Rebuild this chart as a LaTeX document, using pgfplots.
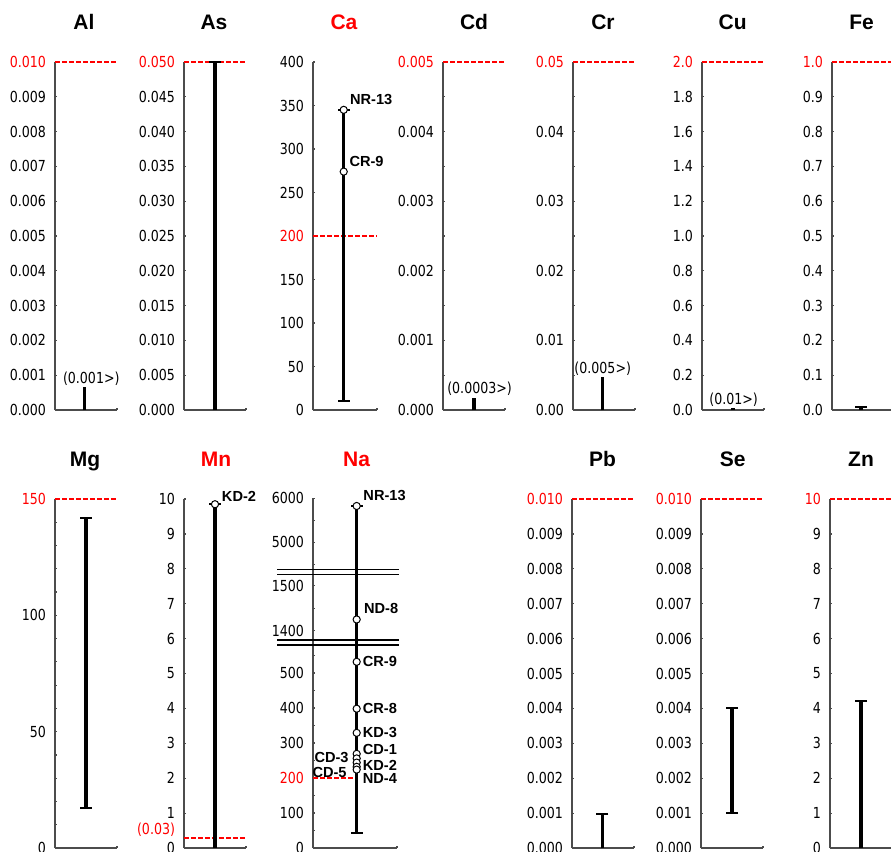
\documentclass[border=0pt]{standalone}
\usepackage{fontspec}
\setmainfont{Liberation Sans}
\newfontfamily\tickfont[FakeStretch=0.83]{DejaVu Sans}
\usepackage{pgfplots}
\pgfplotsset{compat=1.18}
\newcommand\tf{\tickfont\fontsize{7.6}{8}\selectfont}
\newcommand\lab{\bfseries\fontsize{7.3}{8}\selectfont}
\newcommand\ttl{\bfseries\fontsize{10.5}{12}\selectfont}
\newcommand\R[1]{\textcolor{red}{#1}}
\pgfplotsset{
  panel/.style={
    scale only axis, width=31pt, height=174pt,
    axis lines=left, axis line style={-, draw=black!70, line width=0.6pt},
    xmin=0, xmax=1, xtick={1}, xticklabels={},
    scaled y ticks=false, scaled x ticks=false,
    tick align=inside, major tick length=1.2pt, minor tick length=1.2pt,
    every tick/.style={draw=black!70, line width=0.6pt},
    yticklabel style={font=\tf, inner sep=0pt, xshift=-4.3pt},
    anchor=south west, clip=false,
  },
  bar/.style={black, line width=1.7pt, no marks},
  cap/.style={black, only marks, mark=-, mark size=3pt, mark options={line width=1pt}},
  dot/.style={only marks, mark=*, mark size=1.8pt, mark options={fill=white, draw=black, line width=0.5pt}},
  std/.style={red, line width=1pt, dash pattern=on 2.4pt off 1.1pt, no marks},
}
\begin{document}
\begin{tikzpicture}
\useasboundingbox (0,0) rectangle (445.5pt,-426pt);
% ---------- titles ----------
\node[font=\ttl, anchor=base] at (42pt,-14.7pt) {Al};
\node[font=\ttl, anchor=base] at (107pt,-14.7pt) {As};
\node[font=\ttl, anchor=base, text=red] at (172pt,-14.7pt) {Ca};
\node[font=\ttl, anchor=base] at (237pt,-14.7pt) {Cd};
\node[font=\ttl, anchor=base] at (301.5pt,-14.7pt) {Cr};
\node[font=\ttl, anchor=base] at (366.3pt,-14.7pt) {Cu};
\node[font=\ttl, anchor=base] at (430.8pt,-14.7pt) {Fe};
\node[font=\ttl, anchor=base] at (42.5pt,-233.3pt) {Mg};
\node[font=\ttl, anchor=base, text=red] at (108pt,-233.3pt) {Mn};
\node[font=\ttl, anchor=base, text=red] at (178.3pt,-233.3pt) {Na};
\node[font=\ttl, anchor=base] at (301.3pt,-233.3pt) {Pb};
\node[font=\ttl, anchor=base] at (366.3pt,-233.3pt) {Se};
\node[font=\ttl, anchor=base] at (430.5pt,-233.3pt) {Zn};

% ---------- Al ----------
\begin{axis}[panel, at={(27.5pt,-205pt)}, ymin=0, ymax=0.01,
  ytick={0,0.001,0.002,0.003,0.004,0.005,0.006,0.007,0.008,0.009,0.01},
  yticklabels={0.000,0.001,0.002,0.003,0.004,0.005,0.006,0.007,0.008,0.009,\R{0.010}}]
\addplot[std] coordinates {(0,0.01) (1,0.01)};
\addplot[bar] coordinates {(0.48,0) (0.48,0.00065)};
\node[font=\tf] at (axis cs:0.585,0.00091) {(0.001>)};
\end{axis}
% ---------- As ----------
\begin{axis}[panel, at={(92pt,-205pt)}, ymin=0, ymax=0.05,
  ytick={0,0.005,0.01,0.015,0.02,0.025,0.03,0.035,0.04,0.045,0.05},
  yticklabels={0.000,0.005,0.010,0.015,0.020,0.025,0.030,0.035,0.040,0.045,\R{0.050}}]
\addplot[std] coordinates {(0,0.05) (1,0.05)};
\addplot[bar] coordinates {(0.5,0) (0.5,0.05)};
\addplot[cap] coordinates {(0.5,0.05)};
\end{axis}
% ---------- Ca ----------
\begin{axis}[panel, at={(156.5pt,-205pt)}, width=32pt, ymin=0, ymax=400,
  ytick={0,50,100,150,200,250,300,350,400},
  yticklabels={0,50,100,150,\R{200},250,300,350,400}]
\addplot[std] coordinates {(0,200) (1,200)};
\addplot[bar] coordinates {(0.48,10) (0.48,345)};
\addplot[cap] coordinates {(0.48,10) (0.48,345)};
\addplot[dot] coordinates {(0.48,345) (0.48,274)};
\node[font=\lab, anchor=west, inner sep=0pt, xshift=3pt, yshift=5.2pt] at (axis cs:0.48,345) {NR-13};
\node[font=\lab, anchor=west, inner sep=0pt, xshift=2.7pt, yshift=5.3pt] at (axis cs:0.48,274) {CR-9};
\end{axis}
% ---------- Cd ----------
\begin{axis}[panel, at={(221.5pt,-205pt)}, ymin=0, ymax=0.005,
  ytick={0,0.001,0.002,0.003,0.004,0.005},
  minor ytick={0.0005,0.0015,0.0025,0.0035,0.0045},
  yticklabels={0.000,0.001,0.002,0.003,0.004,\R{0.005}}]
\addplot[std] coordinates {(0,0.005) (1,0.005)};
\addplot[bar] coordinates {(0.5,0) (0.5,0.00017)};
\node[font=\tf] at (axis cs:0.59,0.000312) {(0.0003>)};
\end{axis}
% ---------- Cr ----------
\begin{axis}[panel, at={(286.5pt,-205pt)}, ymin=0, ymax=0.05,
  ytick={0,0.01,0.02,0.03,0.04,0.05},
  minor ytick={0.005,0.015,0.025,0.035,0.045},
  yticklabels={0.00,0.01,0.02,0.03,0.04,\R{0.05}}]
\addplot[std] coordinates {(0,0.05) (1,0.05)};
\addplot[bar] coordinates {(0.48,0) (0.48,0.0048)};
\node[font=\tf] at (axis cs:0.48,0.006) {(0.005>)};
\end{axis}
% ---------- Cu ----------
\begin{axis}[panel, at={(351pt,-205pt)}, ymin=0, ymax=2,
  ytick={0,0.2,0.4,0.6,0.8,1,1.2,1.4,1.6,1.8,2},
  yticklabels={0.0,0.2,0.4,0.6,0.8,1.0,1.2,1.4,1.6,1.8,\R{2.0}}]
\addplot[std] coordinates {(0,2) (1,2)};
\addplot[bar] coordinates {(0.5,0) (0.5,0.01)};
\node[font=\tf] at (axis cs:0.51,0.0575) {(0.01>)};
\end{axis}
% ---------- Fe ----------
\begin{axis}[panel, at={(416pt,-205pt)}, ymin=0, ymax=1,
  ytick={0,0.1,0.2,0.3,0.4,0.5,0.6,0.7,0.8,0.9,1},
  yticklabels={0.0,0.1,0.2,0.3,0.4,0.5,0.6,0.7,0.8,0.9,\R{1.0}}]
\addplot[std] coordinates {(0,1) (1,1)};
\addplot[bar] coordinates {(0.47,0) (0.47,0.01)};
\addplot[cap] coordinates {(0.47,0.01)};
\end{axis}

% ---------- Mg ----------
\begin{axis}[panel, at={(27.5pt,-424pt)}, height=174.5pt, ymin=0, ymax=150,
  ytick={0,50,100,150},
  minor ytick={10,20,30,40,60,70,80,90,110,120,130,140},
  yticklabels={0,50,100,\R{150}}]
\addplot[std] coordinates {(0,150) (1,150)};
\addplot[bar] coordinates {(0.5,17.3) (0.5,142)};
\addplot[cap] coordinates {(0.5,17.3) (0.5,142)};
\end{axis}
% ---------- Mn ----------
\begin{axis}[panel, at={(92pt,-424pt)}, height=174.5pt, ymin=0, ymax=10,
  ytick={0,1,2,3,4,5,6,7,8,9,10},
  yticklabels={0,1,2,3,4,5,6,7,8,9,10},
  extra y ticks={0.3}, extra y tick labels={\R{(0.03)}},
  extra y tick style={major tick length=0pt, yticklabel style={yshift=4pt}}]
\addplot[std] coordinates {(0,0.3) (1,0.3)};
\addplot[bar] coordinates {(0.5,0) (0.5,9.85)};
\addplot[cap] coordinates {(0.5,9.85)};
\addplot[dot] coordinates {(0.5,9.85)};
\node[font=\lab, anchor=west, inner sep=0pt, xshift=3.3pt, yshift=4pt] at (axis cs:0.5,9.85) {KD-2};
\end{axis}
% ---------- Na (broken axis: three segments) ----------
\begin{axis}[panel, at={(156.5pt,-424pt)}, width=42pt, height=101.5pt,
  ymin=0, ymax=580, clip=true, clip mode=individual,
  ytick={0,100,200,300,400,500},
  minor ytick={50,150,250,350,450,550},
  yticklabels={0,100,\R{200},300,400,500}]
\addplot[std] coordinates {(0,200) (0.5,200)};
\addplot[bar] coordinates {(0.52,44) (0.52,5825)};
\addplot[cap] coordinates {(0.52,44)};
\addplot[dot] coordinates {(0.52,532) (0.52,398) (0.52,329) (0.52,269) (0.52,256) (0.52,244) (0.52,232) (0.52,224)};
\node[font=\lab, anchor=west, inner sep=0pt, xshift=2.9pt] at (axis cs:0.52,532) {CR-9};
\node[font=\lab, anchor=west, inner sep=0pt, xshift=2.9pt] at (axis cs:0.52,398) {CR-8};
\node[font=\lab, anchor=west, inner sep=0pt, xshift=2.9pt] at (axis cs:0.52,329) {KD-3};
\node[font=\lab, anchor=west, inner sep=0pt, xshift=2.9pt, yshift=2.35pt] at (axis cs:0.52,269) {CD-1};
\node[font=\lab, anchor=west, inner sep=0pt, xshift=2.9pt, yshift=-1.15pt] at (axis cs:0.52,244) {KD-2};
\node[font=\lab, anchor=west, inner sep=0pt, xshift=2.9pt, yshift=-4.65pt] at (axis cs:0.52,224) {ND-4};
\node[font=\lab, anchor=east, inner sep=0pt, xshift=-3.85pt, yshift=0.5pt] at (axis cs:0.52,256) {CD-3};
\node[font=\lab, anchor=east, inner sep=0pt, xshift=-4.85pt, yshift=-3pt] at (axis cs:0.52,232) {CD-5};
\end{axis}
\begin{axis}[panel, at={(156.5pt,-322.5pt)}, width=42pt, height=35.15pt,
  axis x line=none, ymin=1368, ymax=1525, clip=true, clip mode=individual,
  ytick={1400,1500}, minor ytick={1450}, yticklabels={1400,1500}]
\addplot[bar] coordinates {(0.52,44) (0.52,5825)};
\addplot[dot] coordinates {(0.52,1425)};
\node[font=\lab, anchor=west, inner sep=0pt, xshift=3.5pt, yshift=5.6pt] at (axis cs:0.52,1425) {ND-8};
\end{axis}
\begin{axis}[panel, at={(156.5pt,-287.35pt)}, width=42pt, height=38.2pt,
  axis x line=none, ymin=4264, ymax=6000, clip=true, clip mode=individual,
  ytick={5000,6000}, minor ytick={4500,5500}, yticklabels={5000,6000}]
\addplot[bar] coordinates {(0.52,44) (0.52,5825)};
\addplot[cap] coordinates {(0.52,5825)};
\addplot[dot] coordinates {(0.52,5825)};
\node[font=\lab, anchor=west, inner sep=0pt, xshift=3.2pt, yshift=5.5pt] at (axis cs:0.52,5825) {NR-13};
\end{axis}
\draw[black, line width=0.7pt] (138.5pt,-284.65pt) -- (199.5pt,-284.65pt);
\draw[black, line width=0.7pt] (138.5pt,-287.35pt) -- (199.5pt,-287.35pt);
\draw[black, line width=0.7pt] (138.5pt,-320pt) -- (199.5pt,-320pt);
\draw[black, line width=0.7pt] (138.5pt,-322.5pt) -- (199.5pt,-322.5pt);
% ---------- Pb ----------
\begin{axis}[panel, at={(286pt,-424pt)}, height=174.5pt, ymin=0, ymax=0.01,
  ytick={0,0.001,0.002,0.003,0.004,0.005,0.006,0.007,0.008,0.009,0.01},
  yticklabels={0.000,0.001,0.002,0.003,0.004,0.005,0.006,0.007,0.008,0.009,\R{0.010}}]
\addplot[std] coordinates {(0,0.01) (1,0.01)};
\addplot[bar] coordinates {(0.49,0) (0.49,0.00097)};
\addplot[cap] coordinates {(0.49,0.00097)};
\end{axis}
% ---------- Se ----------
\begin{axis}[panel, at={(350.5pt,-424pt)}, height=174.5pt, ymin=0, ymax=0.01,
  ytick={0,0.001,0.002,0.003,0.004,0.005,0.006,0.007,0.008,0.009,0.01},
  yticklabels={0.000,0.001,0.002,0.003,0.004,0.005,0.006,0.007,0.008,0.009,\R{0.010}}]
\addplot[std] coordinates {(0,0.01) (1,0.01)};
\addplot[bar] coordinates {(0.5,0.001) (0.5,0.004)};
\addplot[cap] coordinates {(0.5,0.001) (0.5,0.004)};
\end{axis}
% ---------- Zn ----------
\begin{axis}[panel, at={(415pt,-424pt)}, height=174.5pt, ymin=0, ymax=10,
  ytick={0,1,2,3,4,5,6,7,8,9,10},
  yticklabels={0,1,2,3,4,5,6,7,8,9,\R{10}}]
\addplot[std] coordinates {(0,10) (1,10)};
\addplot[bar] coordinates {(0.5,0) (0.5,4.2)};
\addplot[cap] coordinates {(0.5,4.2)};
\end{axis}
\end{tikzpicture}
\end{document}
